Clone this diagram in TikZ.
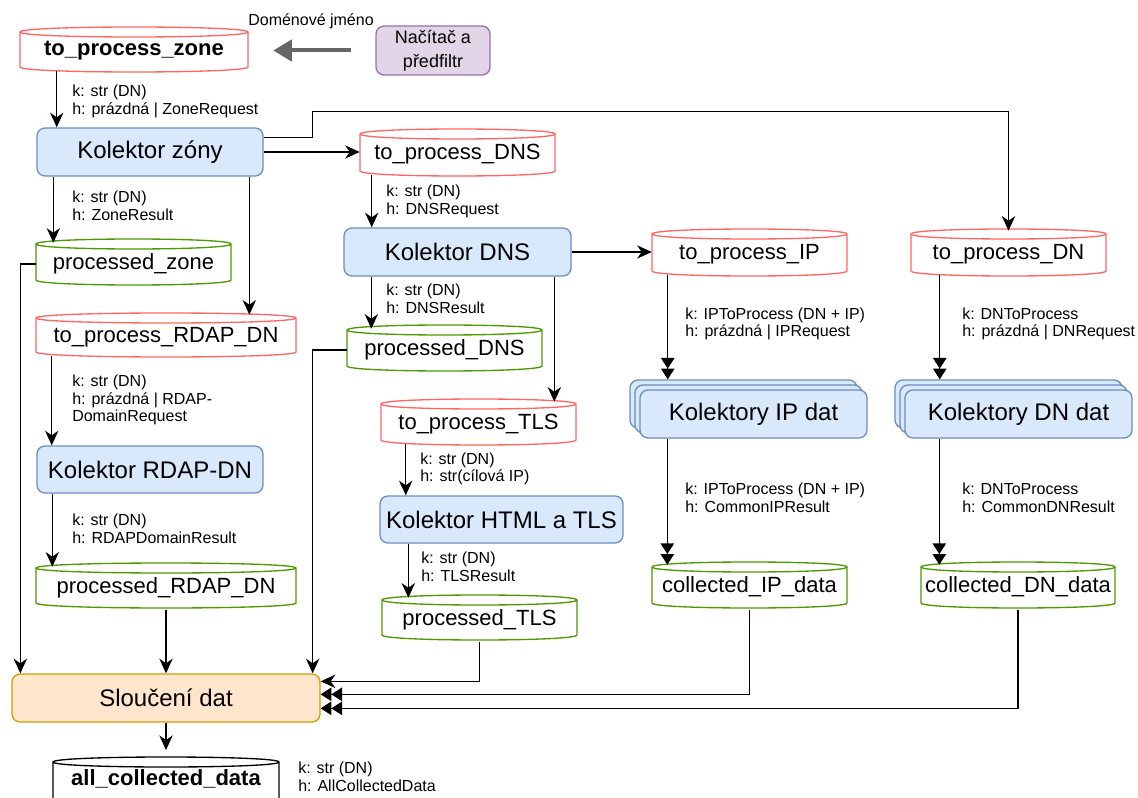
\documentclass[tikz,border=0pt]{standalone}
\usepackage{fontspec}
\setmainfont{Liberation Sans}
\usetikzlibrary{arrows.meta,calc}

\definecolor{procfill}{HTML}{DAE8FC}
\definecolor{procline}{HTML}{6C8EBF}
\definecolor{mergefill}{HTML}{FFE6CC}
\definecolor{mergeline}{HTML}{D79B00}
\definecolor{loadfill}{HTML}{E1D5E7}
\definecolor{loadline}{HTML}{9673A6}
\definecolor{inq}{HTML}{FF6666}
\definecolor{outq}{HTML}{4D9900}
\definecolor{feed}{HTML}{666666}

% Queue drawn as a cylinder: #1 name, #2 x1, #3 y1, #4 x2, #5 y2,
% #6 stroke options, #7 extra node options, #8 label
\newcommand{\queue}[8]{%
  \path[#6, fill=white] (#2,#3+5) .. controls (#2,#3-1.67) and (#4,#3-1.67) .. (#4,#3+5)
     -- (#4,#5-5) .. controls (#4,#5+1.67) and (#2,#5+1.67) .. (#2,#5-5) -- cycle;
  \path[#6] (#2,#3+5) .. controls (#2,#3+11.67) and (#4,#3+11.67) .. (#4,#3+5);
  \node[qtext, minimum width={(#4-#2)*0.75pt}, minimum height={(#5-#3)*0.75pt}, #7]
     (#1) at ({(#2+#4)/2},{(#3+#5)/2}) {#8};
}

\begin{document}
\begin{tikzpicture}[x=0.75pt, y=-0.75pt,
  qtext/.style={inner sep=0pt, font=\fontsize{16.5}{19}\selectfont},
  inqueue/.style={draw=inq, line width=1pt},
  outqueue/.style={draw=outq, line width=1pt},
  finalqueue/.style={draw=black, line width=1pt},
  proc/.style={draw=procline, fill=procfill, rounded corners=6pt, line width=1pt,
    inner sep=0pt, font=\fontsize{18}{21}\selectfont},
  merge/.style={draw=mergeline, fill=mergefill, rounded corners=6pt, line width=1pt,
    inner sep=0pt, font=\fontsize{18}{21}\selectfont},
  loader/.style={draw=loadline, fill=loadfill, rounded corners=6pt, line width=1pt,
    inner sep=0pt, align=center, font=\fontsize{13.5}{18}\selectfont},
  conn/.style={line width=1.1pt, -{Stealth[length=11pt,width=10pt,inset=3.5pt]}},
  conntwo/.style={line width=1.1pt, -{Triangle[length=8pt,width=10pt]Triangle[length=8pt,width=10pt]}},
  feedarrow/.style={draw=feed, line width=3pt, -{Triangle[length=14pt,width=16pt]}},
  meta/.style={font=\fontsize{12}{13.2}\selectfont, align=left, anchor=west, inner sep=0pt},
]
\useasboundingbox (0,0) rectangle (1138,798);
\clip (0,0) rectangle (1138,798);
\fill[white] (0,0) rectangle (1138,798);

% ---------- queues ----------
\queue{tpz}{20}{27}{248}{72}{inqueue}{font=\fontsize{16.5}{19}\bfseries, yshift=-1pt}{to\_process\_zone}
\queue{tpdns}{360}{129}{555}{176}{inqueue}{yshift=-1.5pt}{to\_process\_DNS}
\queue{pz}{36}{239}{231}{285}{outqueue}{yshift=-1.5pt}{processed\_zone}
\queue{tprdap}{36}{313}{296}{357}{inqueue}{yshift=-1.5pt}{to\_process\_RDAP\_DN}
\queue{prdap}{36}{563}{296}{608}{outqueue}{yshift=-1.5pt}{processed\_RDAP\_DN}
\queue{pdns}{347}{325}{542}{371}{outqueue}{yshift=-1.5pt}{processed\_DNS}
\queue{tptls}{381}{399}{576}{445}{inqueue}{yshift=-1.5pt}{to\_process\_TLS}
\queue{ptls}{382}{595}{577}{640}{outqueue}{yshift=-1.5pt}{processed\_TLS}
\queue{tpip}{652}{229}{847}{276}{inqueue}{yshift=-1.5pt}{to\_process\_IP}
\queue{tpdn}{911}{229}{1106}{276}{inqueue}{yshift=-1.5pt}{to\_process\_DN}
\queue{cip}{652}{562}{847}{608}{outqueue}{yshift=-1.5pt}{collected\_IP\_data}
\queue{cdn}{921}{562}{1115}{608}{outqueue}{yshift=-1.5pt}{collected\_DN\_data}
\queue{acd}{53}{757}{279}{815}{finalqueue}{font=\fontsize{16.5}{19}\bfseries, yshift=5pt}{all\_collected\_data}

% ---------- processing boxes ----------
\node[loader, minimum width=85.5pt, minimum height=36.75pt] (nac) at (433,50.5) {Načítač a\\předfiltr};
\node[proc, minimum width=169.5pt, minimum height=36pt] (kz) at (150,152) {Kolektor zóny};
\node[proc, minimum width=169.5pt, minimum height=35.25pt] (krdap) at (150,469.5) {Kolektor RDAP-DN};
\node[proc, minimum width=170.25pt, minimum height=36pt] (kdns) at (457.5,252) {Kolektor DNS};
\node[proc, minimum width=182.25pt, minimum height=35.25pt] (khtml) at (501.5,519.5) {Kolektor HTML a TLS};
\node[merge, minimum width=231pt, minimum height=36pt] (sl) at (166,698) {Sloučení dat};

% stacked collector groups
\node[proc, minimum width=170.25pt, minimum height=36pt] (kipb) at (743.5,404) {};
\node[proc, minimum width=170.25pt, minimum height=36pt] (kipm) at (748.5,409) {};
\node[proc, minimum width=170.25pt, minimum height=36pt] (kip) at (753.5,414) {Kolektory IP dat};
\node[proc, minimum width=170.25pt, minimum height=36pt] (kdnb) at (1008.5,404) {};
\node[proc, minimum width=170.25pt, minimum height=36pt] (kdnm) at (1013.5,409) {};
\node[proc, minimum width=170.25pt, minimum height=36pt] (kdn) at (1018.5,414) {Kolektory DN dat};

% ---------- input feed ----------
\draw[feedarrow] ($(nac.west)+(-24,0)$) coordinate (g1) -- ($(g1 -| tpz.east)+(25,0)$);
\node[font=\fontsize{12}{14}\selectfont, inner sep=0pt] (feedlbl) at (311,21) {Doménové jméno};

% ---------- zone branch ----------
\draw[conn] ($(tpz.south west)+(37,-3)$) coordinate (a1) -- (a1 |- kz.north);
\draw[conn] (kz.east) -- (kz.east -| tpdns.west);
\draw[conn] ($(kz.north east)+(0,10)$) -| ($(kz.north east)+(49,-16)$) -| (tpdn.north);
\draw[conn] ($(kz.south west)+(17,0)$) coordinate (a3) -- ($(a3 |- pz.north)+(0,2)$);
\draw[conn] ($(kz.south west)+(213,0)$) coordinate (a4) -- (a4 |- tprdap.north);
\draw[conn] (pz.west) -| ($(sl.north west)+(9,0)$);
\draw[conn] ($(tprdap.south west)+(16,-3)$) coordinate (a6) -- (a6 |- krdap.north);
\draw[conn] ($(krdap.south west)+(16,0)$) coordinate (a7) -- ($(a7 |- prdap.north)+(0,2)$);
\draw[conn] (prdap.south) -- (sl.north);

% ---------- DNS branch ----------
\draw[conn] ($(tpdns.south west)+(12,-3)$) coordinate (a10) -- (a10 |- kdns.north);
\draw[conn] (kdns.east) -- (kdns.east -| tpip.west);
\draw[conn] ($(kdns.south west)+(28,0)$) coordinate (a12) -- ($(a12 |- pdns.north)+(0,2)$);
\draw[conn] ($(kdns.south west)+(211,0)$) coordinate (a13) -- ($(a13 |- tptls.north)+(0,1)$);
\draw[conn] (pdns.west) -| ($(sl.north east)+(-8,0)$);
\draw[conn] ($(tptls.south west)+(25,-3)$) coordinate (a15) -- (a15 |- khtml.north);
\draw[conn] ($(khtml.south west)+(29,0)$) coordinate (a16) -- ($(a16 |- ptls.north)+(0,1)$);
\draw[conn] (ptls.south) |- ($(sl.north east)+(0,8)$);

% ---------- IP and DN collectors ----------
\draw[conntwo] ($(tpip.south west)+(16,-3)$) coordinate (b1) -- (b1 |- kipb.north);
\draw[conntwo] ($(kip.south west)+(28,0)$) coordinate (b2) -- ($(b2 |- cip.north)+(0,1)$);
\draw[conntwo] ($(tpdn.south west)+(29,-3)$) coordinate (b3) -- (b3 |- kdnb.north);
\draw[conntwo] ($(kdn.south west)+(35,0)$) coordinate (b4) -- ($(b4 |- cdn.north)+(0,1)$);
\draw[conntwo] (cip.south) |- ($(sl.north east)+(0,21)$);
\draw[conntwo] (cdn.south) |- ($(sl.north east)+(0,35)$);

% ---------- merge output ----------
\draw[conn] (sl.south) -- (acd.north);

% ---------- key / header annotations ----------
\node[meta] (m1) at (72,101.5) {k: str (DN)\\h: prázdná | ZoneRequest};
\node[meta] (m2) at (72,206) {k: str (DN)\\h: ZoneResult};
\node[meta] (m3) at (72,400) {k: str (DN)\\h: prázdná | RDAP-\\DomainRequest};
\node[meta] (m4) at (72,528.5) {k: str (DN)\\h: RDAPDomainResult};
\node[meta] (m5) at (386,201.5) {k: str (DN)\\h: DNSRequest};
\node[meta] (m6) at (386,299) {k: str (DN)\\h: DNSResult};
\node[meta] (m7) at (420,469) {k: str (DN)\\h: str(cílová IP)};
\node[meta] (m8) at (421,566.5) {k: str (DN)\\h: TLSResult};
\node[meta] (m9) at (685,324) {k: IPToProcess (DN + IP)\\h: prázdná | IPRequest};
\node[meta] (m10) at (685,498) {k: IPToProcess (DN + IP)\\h: CommonIPResult};
\node[meta] (m11) at (962,324) {k: DNToProcess\\h: prázdná | DNRequest};
\node[meta] (m12) at (962,498) {k: DNToProcess\\h: CommonDNResult};
\node[meta] (m13) at (298,776.5) {k: str (DN)\\h: AllCollectedData};
\end{tikzpicture}
\end{document}
